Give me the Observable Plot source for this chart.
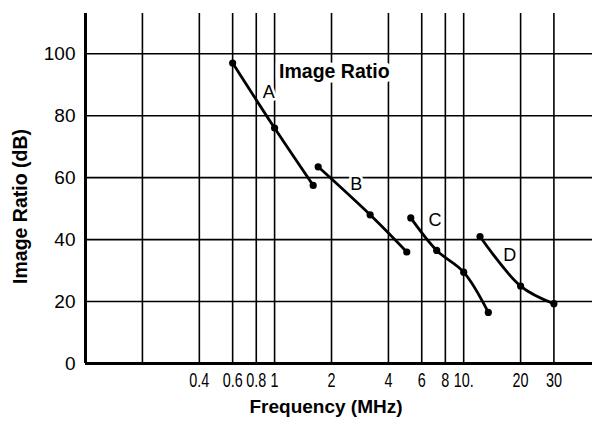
<!DOCTYPE html>
<html><head><meta charset="utf-8">
<script src="https://cdn.jsdelivr.net/npm/d3@7"></script>
<script src="https://cdn.jsdelivr.net/npm/@observablehq/plot@0.6"></script>
<style>
body{margin:0;background:#fff}
#chart svg{font-family:"Liberation Sans",Arial,sans-serif;background:#fff}
</style>
</head><body><div id="chart"></div>
<script>
// axis / grid data
const gridFreqs = [0.2, 0.4, 0.6, 0.8, 1, 2, 4, 6, 8, 10, 20, 30];
const tickFreqs = [0.4, 0.6, 0.8, 1, 2, 4, 6, 8, 10, 20, 30];
const tickLabels = ["0.4", "0.6", "0.8", "1", "2", "4", "6", "8", "10.", "20", "30"];
const yTicks = [0, 20, 40, 60, 80, 100];
const gridRatios = [20, 40, 60, 80, 100];
const xDomain = [0.1, 48];
const yDomain = [0, 113];

// series
const seriesNames = ["A", "B", "C", "D"];
const freqA = [0.6, 1.0, 1.6];       const ratioA = [97, 76, 57.5];
const freqB = [1.7, 3.2, 5.0];       const ratioB = [63.5, 48, 36];
const freqC = [5.25, 7.2, 10, 13.5]; const ratioC = [47, 36.5, 29.5, 16.5];
const freqD = [12.2, 20, 30];        const ratioD = [41, 25, 19.3];

// curve label anchors (data units)
const labelFreq = [0.93, 2.7, 7.05, 17.5];
const labelRatio = [87.5, 58, 46.3, 35];
const titleText = "Image Ratio";
const titleFreq = [2.07], titleRatio = [94.2];

const freqs = [freqA, freqB, freqC, freqD];
const ratios = [ratioA, ratioB, ratioC, ratioD];
const points = seriesNames.flatMap((s, i) => freqs[i].map((f, j) => ({series: s, f, r: ratios[i][j]})));
const labels = seriesNames.map((s, i) => ({s, f: labelFreq[i], r: labelRatio[i]}));

const chart = Plot.plot({
  width: 594, height: 425,
  marginLeft: 85, marginRight: 2, marginTop: 13, marginBottom: 62,
  x: {type: "log", domain: xDomain, axis: null},
  y: {domain: yDomain, axis: null},
  marks: [
    Plot.ruleX(gridFreqs, {y1: 0, y2: yDomain[1], stroke: "black", strokeWidth: 1.6}),
    Plot.ruleY(gridRatios, {x1: xDomain[0], x2: xDomain[1], stroke: "black", strokeWidth: 1.6}),
    Plot.ruleX([xDomain[0]], {y1: 0, y2: yDomain[1], stroke: "black", strokeWidth: 3}),
    Plot.ruleY([0], {x1: xDomain[0], x2: xDomain[1], stroke: "black", strokeWidth: 3}),
    Plot.line(points, {x: "f", y: "r", z: "series", curve: "catmull-rom", stroke: "black", strokeWidth: 2.8}),
    Plot.dot(points, {x: "f", y: "r", r: 3.6, fill: "black"}),
    Plot.text(labels, {x: "f", y: "r", text: "s", fontSize: 18, fill: "black", stroke: "white", strokeWidth: 5}),
    Plot.text([titleText], {x: titleFreq, y: titleRatio, text: d => d, fontSize: 19.5, fontWeight: "bold", fill: "black", stroke: "white", strokeWidth: 9}),
    // x tick labels (condensed afterwards)
    Plot.text(tickFreqs, {x: d => d, frameAnchor: "bottom", dy: 23, text: (d, i) => tickLabels[i], fontSize: 20, fill: "black"}),
    // y tick labels
    Plot.text(yTicks, {y: d => d, frameAnchor: "left", dx: -10, textAnchor: "end", text: d => String(d), fontSize: 19, fill: "black"}),
    Plot.text(["Frequency (MHz)"], {frameAnchor: "bottom", dx: -13, dy: 49, fontSize: 19, fontWeight: "bold", text: d => d}),
    Plot.text(["Image Ratio (dB)"], {frameAnchor: "left", textAnchor: "middle", dx: -65, dy: 18, rotate: -90, fontSize: 19.5, fontWeight: "bold", text: d => d})
  ]
});
document.getElementById("chart").append(chart);
// condense the x tick labels horizontally to mimic the narrow typeface
const first = Array.from(chart.querySelectorAll("text")).find(el => el.textContent === tickLabels[0]);
if (first) {
  Array.from(first.parentNode.querySelectorAll("text")).forEach(el => {
    const box = el.getBBox();
    const cx = box.x + box.width / 2;
    const t = el.getAttribute("transform") || "";
    el.setAttribute("transform", `${t} translate(${cx},0) scale(0.72,1) translate(${-cx},0)`.trim());
  });
}
</script>
</body></html>
